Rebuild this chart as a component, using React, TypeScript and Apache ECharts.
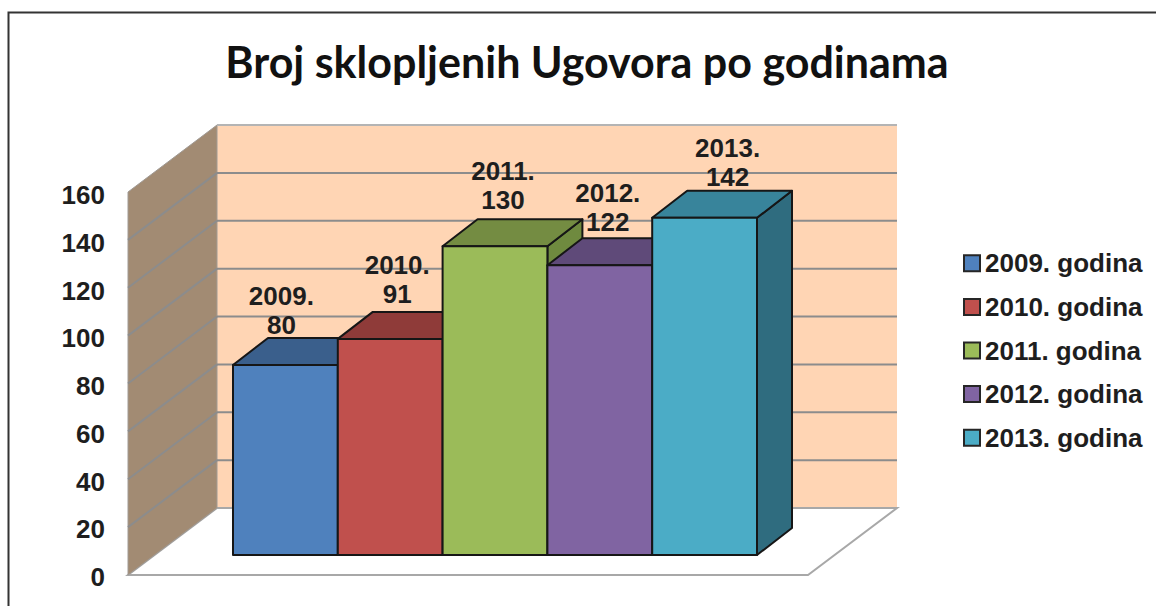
import React, { useEffect, useRef } from "react";
import * as echarts from "echarts";

const titleText = "Broj sklopljenih Ugovora po godinama";
const categories = ["2009.", "2010.", "2011.", "2012.", "2013."];
const seriesNames = ["2009. godina", "2010. godina", "2011. godina", "2012. godina", "2013. godina"];
const values = [80, 91, 130, 122, 142];
const yTicks = [0, 20, 40, 60, 80, 100, 120, 140, 160];

const frontColors = ["#4F81BD", "#C0504D", "#9BBB59", "#8064A2", "#4BACC6"];
const topColors = ["#3A5F8C", "#8F3B39", "#748C42", "#5F4A79", "#38849B"];
const sideColors = ["#335479", "#7D3432", "#6F8A3F", "#534169", "#2F6C7F"];
// Hand-placed data label offsets in the source chart, relative to the bar's top centre.
const labelDx = [-4, 7, 8, 8, 23];
const labelDy = [-55, -59, -61, -58, -55];

const WALL_DX = 89;
const WALL_DY = -67;
const BAR_DX = 35;
const BAR_DY = -27;
const FONT = "'Liberation Sans', Arial, sans-serif";

const wallSeries = {
  type: "custom",
  xAxisIndex: 0,
  yAxisIndex: 0,
  z: 1,
  silent: true,
  data: [[0, 0]],
  renderItem: (_: any, api: any) => {
    const bl = api.coord([0, 0]);
    const tl = api.coord([0, 160]);
    const br = api.coord([1, 0]);
    const shift = (p: number[]) => [p[0] + WALL_DX, p[1] + WALL_DY];
    const edge = { stroke: "#A8A8A8", lineWidth: 2 };
    return {
      type: "group",
      children: [
        {
          type: "rect",
          shape: { x: shift(tl)[0], y: shift(tl)[1], width: br[0] - bl[0], height: bl[1] - tl[1] },
          style: { fill: "#FFD5B4" },
        },
        { type: "polygon", shape: { points: [bl, br, shift(br), shift(bl)] }, style: { fill: "#FFFFFF", ...edge } },
        { type: "polygon", shape: { points: [bl, tl, shift(tl), shift(bl)] }, style: { fill: "#A28B73", stroke: "#A09A94", lineWidth: 1 } },
      ],
    };
  },
};

const tickSeries = {
  type: "custom",
  xAxisIndex: 0,
  yAxisIndex: 0,
  z: 2,
  silent: true,
  data: yTicks.slice(1).map((t) => [0, t]),
  renderItem: (_: any, api: any) => {
    const a = api.coord([0, api.value(1)]);
    const b = api.coord([1, api.value(1)]);
    const style = { stroke: "#8C8C8C", lineWidth: 2, fill: "none" };
    const top = api.value(1) === 160;
    const children: any[] = [
      {
        type: "line",
        shape: { x1: a[0] + WALL_DX, y1: a[1] + WALL_DY, x2: b[0] + WALL_DX, y2: b[1] + WALL_DY },
        style: top ? { ...style, stroke: "#B4B4B4" } : style,
      },
    ];
    if (!top) {
      children.push({
        type: "line",
        shape: { x1: a[0], y1: a[1], x2: a[0] + WALL_DX, y2: a[1] + WALL_DY },
        style,
      });
    }
    return { type: "group", children };
  },
};

const barSeries = seriesNames.map((name, i) => ({
  type: "custom",
  name,
  xAxisIndex: 1,
  yAxisIndex: 1,
  z: 3 + i,
  silent: true,
  itemStyle: { color: frontColors[i] },
  encode: { x: 0, y: 1 },
  data: [[i, values[i]]],
  renderItem: (_: any, api: any) => {
    const w = api.size([1, 0])[0];
    const top = api.coord([api.value(0), api.value(1)]);
    const base = api.coord([api.value(0), 0]);
    const x0 = top[0] - w / 2;
    const x1 = top[0] + w / 2;
    const edge = { stroke: "#161616", lineWidth: 2, lineJoin: "round" };
    return {
      type: "group",
      children: [
        {
          type: "polygon",
          shape: { points: [[x1, top[1]], [x1 + BAR_DX, top[1] + BAR_DY], [x1 + BAR_DX, base[1] + BAR_DY], [x1, base[1]]] },
          style: { fill: sideColors[i], ...edge },
        },
        {
          type: "polygon",
          shape: { points: [[x0, top[1]], [x0 + BAR_DX, top[1] + BAR_DY], [x1 + BAR_DX, top[1] + BAR_DY], [x1, top[1]]] },
          style: { fill: topColors[i], ...edge },
        },
        {
          type: "rect",
          shape: { x: x0, y: top[1], width: w, height: base[1] - top[1] },
          style: { fill: frontColors[i], ...edge },
        },
      ],
    };
  },
}));

const labelSeries = {
  type: "custom",
  xAxisIndex: 1,
  yAxisIndex: 1,
  z: 20,
  silent: true,
  encode: { x: 0, y: 1 },
  data: values.map((v, i) => [i, v]),
  renderItem: (params: any, api: any) => {
    const i = params.dataIndex;
    const p = api.coord([api.value(0), api.value(1)]);
    return {
      type: "text",
      x: p[0] + labelDx[i],
      y: p[1] + labelDy[i],
      style: {
        text: categories[i] + "\n" + api.value(1),
        fill: "#1E1E1E",
        font: `bold 26px ${FONT}`,
        lineHeight: 29,
        align: "center",
        verticalAlign: "middle",
      },
    };
  },
};

export default function App() {
  const ref = useRef<HTMLDivElement>(null);
  useEffect(() => {
    document.body.style.margin = "0";
    document.body.style.overflow = "hidden";
    const chart = echarts.init(ref.current!, undefined, { renderer: "svg" });
    chart.setOption({
      animation: false,
      backgroundColor: "#FFFFFF",
      title: {
        text: titleText,
        left: 582,
        top: 35,
        textAlign: "center",
        textStyle: { fontFamily: "Lato, sans-serif", fontWeight: "bold", fontSize: 43, color: "#111111" },
      },
      legend: {
        data: seriesNames,
        orient: "vertical",
        left: 958,
        top: 244,
        icon: "rect",
        itemWidth: 16,
        itemHeight: 16,
        itemGap: 15,
        selectedMode: false,
        itemStyle: { borderColor: "#262626", borderWidth: 2 },
        textStyle: { fontFamily: FONT, fontWeight: "bold", fontSize: 26, color: "#1E1E1E", lineHeight: 28.6 },
      },
      grid: [
        { left: 128, top: 192, width: 680, height: 383 },
        { left: 233, top: 175, width: 524, height: 380 },
        { left: 128, top: 195, width: 680, height: 382 },
      ],
      xAxis: [
        { gridIndex: 0, type: "value", min: 0, max: 1, show: false },
        { gridIndex: 1, type: "category", data: categories, show: false },
        { gridIndex: 2, type: "value", min: 0, max: 1, show: false },
      ],
      yAxis: [
        { gridIndex: 0, type: "value", min: 0, max: 160, show: false },
        { gridIndex: 1, type: "value", min: 0, max: 160, show: false },
        {
          gridIndex: 2,
          type: "value",
          min: 0,
          max: 160,
          interval: 20,
          axisLine: { show: false },
          axisTick: { show: false },
          splitLine: { show: false },
          axisLabel: {
            margin: 23,
            fontFamily: FONT,
            fontWeight: "bold",
            fontSize: 26,
            color: "#1E1E1E",
          },
        },
      ],
      graphic: [
        {
          type: "polyline",
          shape: { points: [[8.5, 606], [8.5, 12.5], [1156, 12.5]] },
          style: { stroke: "#333333", lineWidth: 2, fill: "none" },
          silent: true,
        },
      ],
      series: [wallSeries, tickSeries, ...barSeries, labelSeries],
    });
    return () => chart.dispose();
  }, []);
  return <div ref={ref} style={{ position: "absolute", left: 0, top: 0, width: 1156, height: 606 }} />;
}
